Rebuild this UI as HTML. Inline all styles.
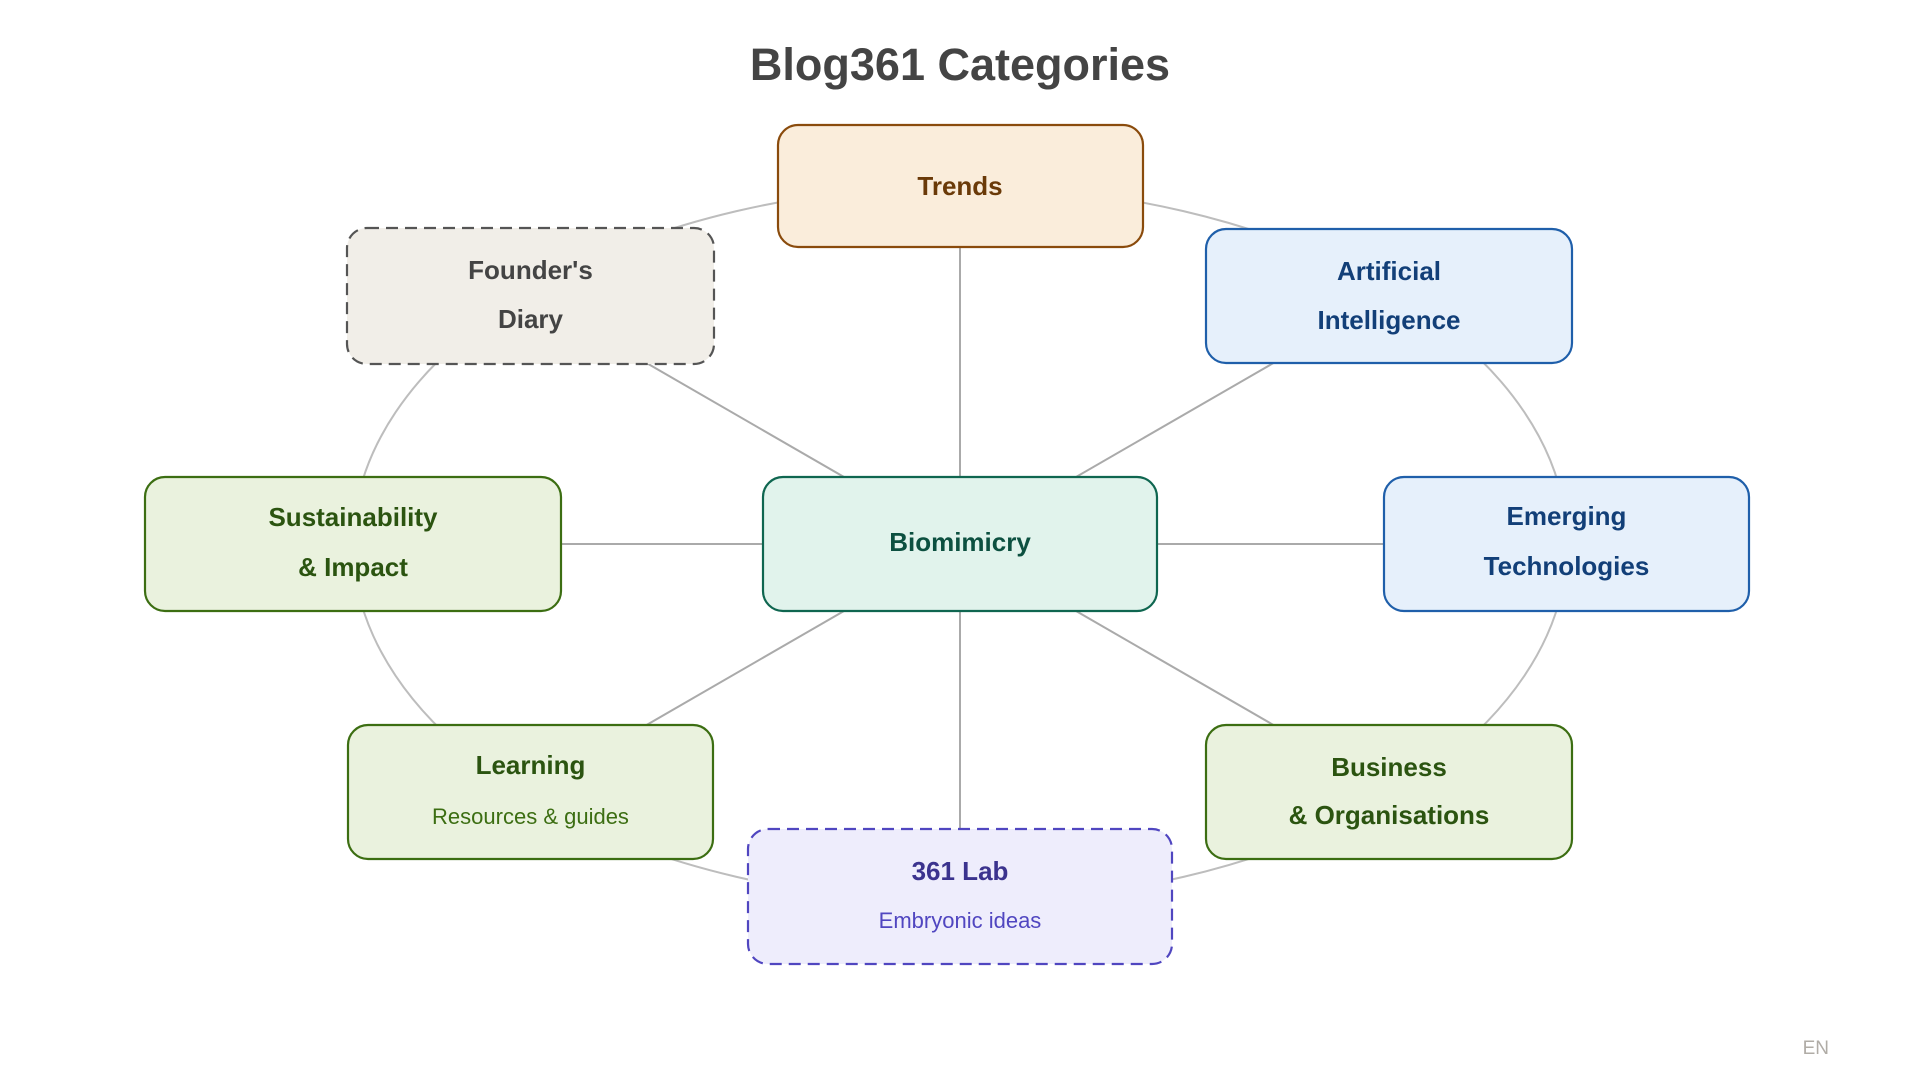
<!DOCTYPE html>
<html>
<head>
<meta charset="utf-8">
<style>
  html, body { margin: 0; padding: 0; background: #ffffff; }
  body { width: 1920px; height: 1080px; overflow: hidden; }
  svg { display: block; }
  text { font-family: "Liberation Sans", Arial, sans-serif; }
  .lbl { font-size: 26px; font-weight: bold; }
  .sub { font-size: 22px; font-weight: normal; }
</style>
</head>
<body>
<svg width="1920" height="1080" viewBox="0 0 1920 1080" xmlns="http://www.w3.org/2000/svg">
  <rect x="0" y="0" width="1920" height="1080" fill="#ffffff"/>

  <!-- Title -->
  <text x="960" y="80" text-anchor="middle" style="font-size:45px;font-weight:bold" fill="#444444">Blog361 Categories</text>

  <!-- Outer ring -->
  <ellipse cx="960" cy="544" rx="607" ry="358" fill="none" stroke="#bdbdbd" stroke-width="2"/>

  <!-- Spokes -->
  <g stroke="#aaaaaa" stroke-width="2">
    <line x1="960" y1="186" x2="960" y2="544"/>
    <line x1="960" y1="544" x2="960" y2="896"/>
    <line x1="353" y1="544" x2="960" y2="544"/>
    <line x1="960" y1="544" x2="1566" y2="544"/>
    <line x1="530.5" y1="296" x2="960" y2="544"/>
    <line x1="1389.5" y1="296" x2="960" y2="544"/>
    <line x1="530.5" y1="792" x2="960" y2="544"/>
    <line x1="1389.5" y1="792" x2="960" y2="544"/>
  </g>

  <!-- Trends -->
  <rect x="778" y="125" width="365" height="122" rx="20" ry="20" fill="#FAEDDB" stroke="#8A4B0C" stroke-width="2.2"/>
  <text class="lbl" x="960" y="195" text-anchor="middle" fill="#6A3A08">Trends</text>

  <!-- Founder's Diary -->
  <rect x="347" y="228" width="367" height="136" rx="20" ry="20" fill="#F1EEE8" stroke="#555555" stroke-width="2.2" stroke-dasharray="12 7"/>
  <text class="lbl" x="530.5" y="279" text-anchor="middle" fill="#444444">Founder's</text>
  <text class="lbl" x="530.5" y="328" text-anchor="middle" fill="#444444">Diary</text>

  <!-- Artificial Intelligence -->
  <rect x="1206" y="229" width="366" height="134" rx="20" ry="20" fill="#E6F0FB" stroke="#1F5FAA" stroke-width="2.2"/>
  <text class="lbl" x="1389" y="280" text-anchor="middle" fill="#123F78">Artificial</text>
  <text class="lbl" x="1389" y="329" text-anchor="middle" fill="#123F78">Intelligence</text>

  <!-- Sustainability -->
  <rect x="145" y="477" width="416" height="134" rx="20" ry="20" fill="#EAF2DE" stroke="#3C6E12" stroke-width="2.2"/>
  <text class="lbl" x="353" y="526" text-anchor="middle" fill="#2B5410">Sustainability</text>
  <text class="lbl" x="353" y="576" text-anchor="middle" fill="#2B5410">&amp; Impact</text>

  <!-- Biomimicry -->
  <rect x="763" y="477" width="394" height="134" rx="20" ry="20" fill="#E1F3EC" stroke="#0F6650" stroke-width="2.2"/>
  <text class="lbl" x="960" y="551" text-anchor="middle" fill="#0C5040">Biomimicry</text>

  <!-- Emerging Technologies -->
  <rect x="1384" y="477" width="365" height="134" rx="20" ry="20" fill="#E6F0FB" stroke="#1F5FAA" stroke-width="2.2"/>
  <text class="lbl" x="1566.5" y="525" text-anchor="middle" fill="#123F78">Emerging</text>
  <text class="lbl" x="1566.5" y="575" text-anchor="middle" fill="#123F78">Technologies</text>

  <!-- Learning -->
  <rect x="348" y="725" width="365" height="134" rx="20" ry="20" fill="#EAF2DE" stroke="#3C6E12" stroke-width="2.2"/>
  <text class="lbl" x="530.5" y="774" text-anchor="middle" fill="#2B5410">Learning</text>
  <text class="sub" x="530.5" y="824" text-anchor="middle" fill="#3C6E12">Resources &amp; guides</text>

  <!-- Business -->
  <rect x="1206" y="725" width="366" height="134" rx="20" ry="20" fill="#EAF2DE" stroke="#3C6E12" stroke-width="2.2"/>
  <text class="lbl" x="1389" y="776" text-anchor="middle" fill="#2B5410">Business</text>
  <text class="lbl" x="1389" y="824" text-anchor="middle" fill="#2B5410">&amp; Organisations</text>

  <!-- 361 Lab -->
  <rect x="748" y="829" width="424" height="135" rx="20" ry="20" fill="#EEEDFC" stroke="#5046C0" stroke-width="2.2" stroke-dasharray="12 7"/>
  <text class="lbl" x="960" y="880" text-anchor="middle" fill="#3B338E">361 Lab</text>
  <text class="sub" x="960" y="928" text-anchor="middle" fill="#5046C0">Embryonic ideas</text>

  <!-- Language marker -->
  <text x="1829" y="1054" text-anchor="end" style="font-size:19px" fill="#b0aca6">EN</text>
</svg>
</body>
</html>
